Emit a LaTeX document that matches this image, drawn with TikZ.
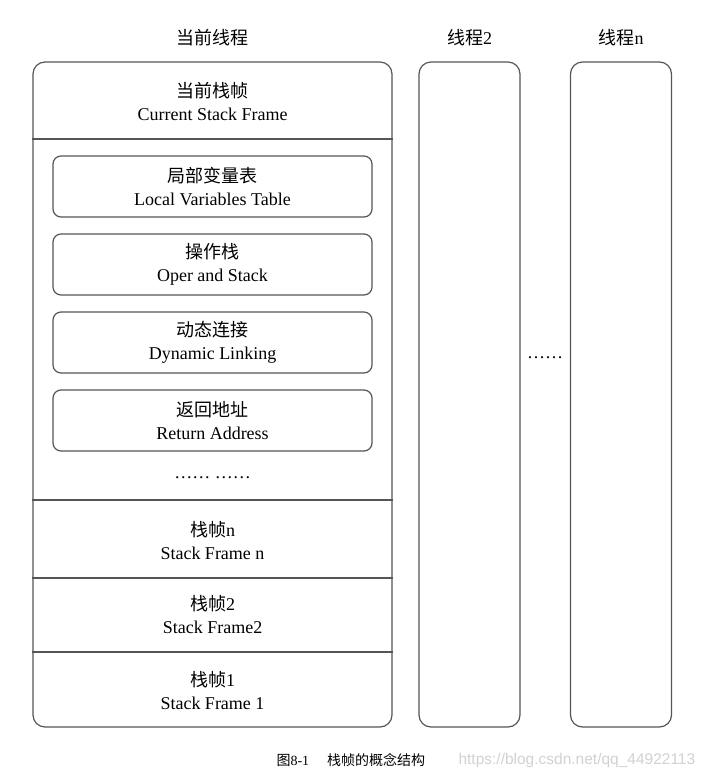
\documentclass[tikz,border=0pt]{standalone}
\usepackage{fontspec}
\setmainfont{Liberation Serif}
\newfontfamily\cjk{Noto Sans CJK SC}
\newfontfamily\webfont{Liberation Sans}
\usetikzlibrary{positioning}
\newcommand{\bigtext}{\fontsize{18}{23}\selectfont}
\definecolor{linegray}{HTML}{555555}
\tikzset{
	thread/.style = {draw=linegray, rounded corners=12pt, line width=1.2pt,
		inner sep=0pt},% boite d'un thread
	slot/.style = {draw=linegray, rounded corners=8pt, line width=1.2pt,
		minimum width=319pt, minimum height=61pt, align=center,
		font=\bigtext},% case du cadre courant
	frametext/.style = {align=center, font=\bigtext},% texte d'un cadre
	sep/.style = {draw=linegray, line width=1.2pt}% ligne de separation
}

\begin{document}
\begin{tikzpicture}[x=1pt,y=-1pt]
	\useasboundingbox (0,0) rectangle (713,777);
	% threads
	\node [thread, minimum width=359pt, minimum height=665pt] (cur) at (212.5,394.5) {};
	\node [thread, minimum width=101pt, minimum height=665pt] (thr2) at (469.5,394.5) {};
	\node [thread, minimum width=101pt, minimum height=665pt] (thrn) at (621,394.5) {};
	\node [frametext, above=12pt of cur] (curtitle) {{\cjk 当前线程}};
	\node [frametext, above=12pt of thr2] (thr2title) {{\cjk 线程}2};
	\node [frametext, above=12pt of thrn] (thrntitle) {{\cjk 线程}n};
	% separations
	\coordinate (s1) at (0,139);
	\coordinate (s2) at (0,500);
	\coordinate (s3) at (0,578);
	\coordinate (s4) at (0,652);
	\foreach \s in {s1,s2,s3,s4}
		\draw [sep] (cur.west |- \s) -- (cur.east |- \s);
	% cadres
	\node [frametext] (curframe) at (212.5,101) {{\cjk 当前栈帧}\\Current Stack Frame};
	\node [slot] (locals) at (212.5,186.5) {{\cjk 局部变量表}\\Local Variables Table};
	\node [slot] (opstack) at (212.5,264.5) {{\cjk 操作栈}\\Oper and Stack};
	\node [slot] (dynlink) at (212.5,342.5) {{\cjk 动态连接}\\Dynamic Linking};
	\node [slot] (retaddr) at (212.5,420.5) {{\cjk 返回地址}\\Return Address};
	\node [frametext] (moreslots) at (212.5,478) {…… ……};
	\node [frametext] (framen) at (212.5,541) {{\cjk 栈帧}n\\Stack Frame n};
	\node [frametext] (frame2) at (212.5,615) {{\cjk 栈帧}2\\Stack Frame2};
	\node [frametext] (frame1) at (212.5,691) {{\cjk 栈帧}1\\Stack Frame 1};
	\node [frametext] (morethr) at (545,358) {……};
	% legende
	\node [font=\fontsize{14}{16}\selectfont, anchor=west] (caption) at (273,760)
		{{\cjk 图}8-1\hspace{18pt}{\cjk 栈帧的概念结构}};
	\node [font=\webfont\fontsize{15.5}{17}\selectfont, text=black!18, anchor=west] (mark)
		at (455,760) {https://blog.csdn.net/qq\_44922113};
\end{tikzpicture}
\end{document}
